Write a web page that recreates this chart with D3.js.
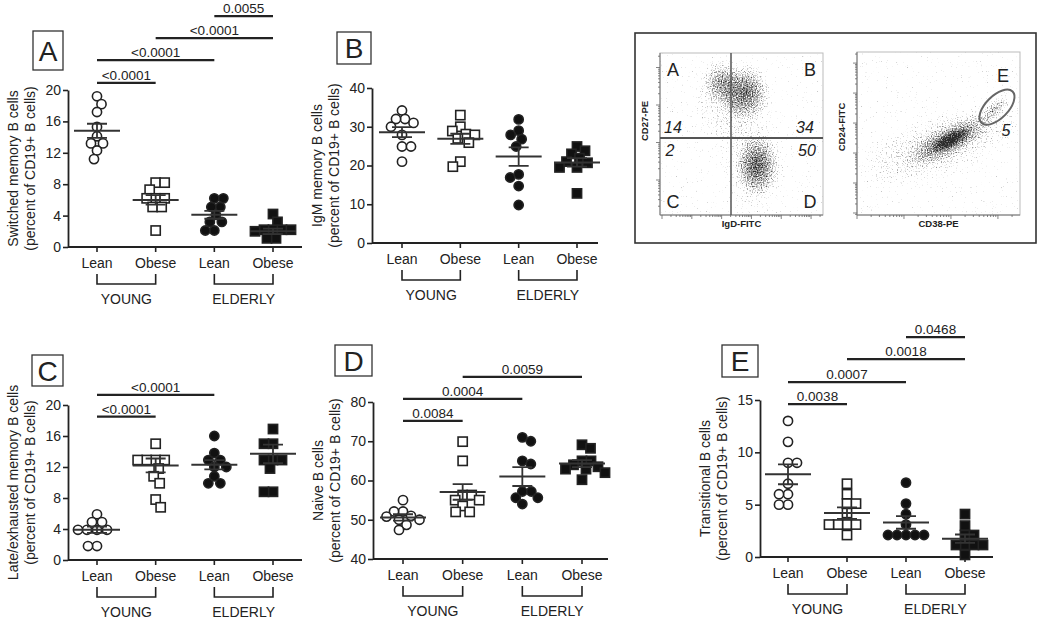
<!DOCTYPE html>
<html><head><meta charset="utf-8">
<script src="https://cdn.jsdelivr.net/npm/d3@7"></script>
<style>
body{margin:0;background:#fff}
svg{display:block}
text{font-family:"Liberation Sans",Arial,sans-serif;fill:#222}
</style>
</head><body>
<svg id="chart" width="1050" height="625"></svg>
<script>
// ---------------- DATA ----------------
const categories = ["Lean", "Obese", "Lean", "Obese"];
const ageGroups = ["YOUNG", "ELDERLY"];
const markerKinds = ["openCircle", "openSquare", "filledCircle", "filledSquare"];

// A: switched memory B cells
const switchedValues = [
  [19.2, 18.2, 17.2, 15.3, 14.1, 13.2, 13.2, 12.3, 11.2],
  [8.2, 8.2, 7.3, 6.2, 6.2, 6.2, 5.1, 5.1, 2.1],
  [6.2, 6.2, 5.1, 5.1, 4.1, 3.2, 3.2, 2.1, 2.1],
  [4.2, 3.2, 2.2, 2.2, 2.2, 2.2, 1.1, 1.1, 2.0]
];
const switchedMean = [14.8, 6.0, 4.1, 2.0];
const switchedSem = [0.9, 0.6, 0.5, 0.35];
const switchedSig = [
  {from: 0, to: 1, level: 20.9, label: "<0.0001"},
  {from: 0, to: 2, level: 23.8, label: "<0.0001"},
  {from: 1, to: 3, level: 26.6, label: "<0.0001"},
  {from: 2, to: 3, level: 29.4, label: "0.0055"}
];

// B: IgM memory B cells
const igmValues = [
  [34.2, 32, 32, 31, 30, 27.9, 24.9, 24.9, 21],
  [33, 30, 28.9, 28.1, 27.9, 27, 25.9, 19.7, 21],
  [31.9, 29, 27.9, 26.8, 24.9, 16.9, 17.7, 14.7, 9.8],
  [24.9, 23, 23.8, 21.9, 20.7, 19.5, 19.5, 21, 12.8]
];
const igmMean = [28.6, 26.9, 22.3, 20.8];
const igmSem = [1.3, 1.3, 2.4, 1.1];
const igmSig = [];

// C: late/exhausted memory B cells
const lateValues = [
  [5.9, 4.9, 4.9, 3.9, 3.9, 3.9, 3.9, 1.8, 1.8],
  [15, 12.9, 12.9, 12.9, 12.9, 11.8, 10.8, 9.9, 7.8, 6.8],
  [16, 13.8, 12.9, 12.9, 12, 12, 10.8, 9.9, 9.9],
  [16.9, 15, 15, 12.9, 12.9, 12.9, 11.8, 8.8, 8.8]
];
const lateMean = [3.9, 12.2, 12.3, 13.7];
const lateSem = [0.4, 0.9, 0.6, 1.2];
const lateSig = [
  {from: 0, to: 1, level: 18.5, label: "<0.0001"},
  {from: 0, to: 2, level: 21.3, label: "<0.0001"}
];

// D: naive B cells
const naiveValues = [
  [55, 52.1, 52.1, 51, 50.8, 50, 50, 48.7, 47.4],
  [69.9, 65, 56.3, 56.3, 55, 55, 53.5, 52, 52],
  [70, 71, 65, 64.2, 57.2, 57.2, 55.6, 55.6, 54],
  [68.2, 69.1, 65, 65, 64, 63.5, 62.9, 62.9, 62, 60.2]
];
const naiveMean = [50.6, 57.1, 61.0, 64.3];
const naiveSem = [0.8, 2.0, 2.4, 0.9];
const naiveSig = [
  {from: 0, to: 1, level: 75.2, label: "0.0084"},
  {from: 0, to: 2, level: 80.8, label: "0.0004"},
  {from: 1, to: 3, level: 86.4, label: "0.0059"}
];

// E: transitional B cells
const transValues = [
  [13, 11, 9, 9, 7, 6, 6, 5, 5],
  [7, 6, 5.1, 5.1, 4.2, 3.1, 3.1, 3.1, 3.1, 2.1],
  [7.1, 5.1, 4.1, 3.1, 2.1, 2.1, 2.1, 2.1, 2.1],
  [4.1, 3, 2.1, 2.1, 1.15, 1.15, 1.15, 1.15, 0.2]
];
const transMean = [7.9, 4.2, 3.3, 1.75];
const transSem = [0.95, 0.55, 0.6, 0.4];
const transSig = [
  {from: 0, to: 1, level: 14.6, label: "0.0038"},
  {from: 0, to: 2, level: 16.7, label: "0.0007"},
  {from: 1, to: 3, level: 18.9, label: "0.0018"},
  {from: 2, to: 3, level: 21.0, label: "0.0468"}
];

// Flow cytometry inset (log10 axis units)
const quadrantLetters = ["A", "B", "C", "D"];
const quadrantPercents = ["14", "34", "2", "50"];
const gateLetter = "E";
const gatePercent = "5";
const flowClusters = [
  {plot: "left", x: 1.95, y: 3.62, sx: 0.7, sy: 0.65, rot: 0, w: 0.33},
  {plot: "left", x: 2.8, y: 3.35, sx: 0.9, sy: 0.8, rot: 0, w: 0.42},
  {plot: "left", x: 2.4, y: 3.0, sx: 1.5, sy: 1.3, rot: 0, w: 0.2},
  {plot: "left", x: 3.2, y: 1.4, sx: 0.8, sy: 0.9, rot: 0, w: 0.45},
  {plot: "left", x: 3.1, y: 1.3, sx: 1.2, sy: 1.4, rot: 0, w: 0.17},
  {plot: "right", x: 1.8, y: 2.3, sx: 2.1, sy: 1.1, rot: -20, w: 0.24},
  {plot: "right", x: 1.98, y: 2.43, sx: 1.05, sy: 0.55, rot: -28, w: 0.38},
  {plot: "right", x: 2.0, y: 2.45, sx: 0.5, sy: 0.28, rot: -28, w: 0.5},
  {plot: "right", x: 2.95, y: 3.5, sx: 0.5, sy: 0.3, rot: -45, w: 0.27}
];
const flowGate = {x: 2.98, y: 3.53, sx: 0.47, sy: 0.24, rot: -45};

// ---------------- LAYOUT ----------------
const svg = d3.select("#chart");
const INK = "#222";

const panels = [
  {letter: "A", box: [33, 31, 30, 39], ax: 68, top: 90, bottom: 247, xEnd: 302, c0: 97, c3: 273,
   domain: [0, 20], ticks: [0, 4, 8, 12, 16, 20],
   title: ["Switched memory B cells", "(percent of CD19+ B cells)"],
   values: switchedValues, mean: switchedMean, sem: switchedSem, sig: switchedSig},
  {letter: "B", box: [337, 32, 34, 32], ax: 372, top: 88, bottom: 243, xEnd: 598, c0: 402, c3: 577,
   domain: [0, 40], ticks: [0, 10, 20, 30, 40],
   title: ["IgM memory B cells", "(percent of CD19+ B cells)"],
   values: igmValues, mean: igmMean, sem: igmSem, sig: igmSig},
  {letter: "C", box: [32, 355, 31, 31], ax: 68, top: 405, bottom: 560, xEnd: 302, c0: 97, c3: 273,
   domain: [0, 20], ticks: [0, 4, 8, 12, 16, 20],
   title: ["Late/exhausted memory B cells", "(percent of CD19+ B cells)"],
   values: lateValues, mean: lateMean, sem: lateSem, sig: lateSig},
  {letter: "D", box: [335, 345, 37, 31], ax: 373, top: 402, bottom: 559, xEnd: 608, c0: 403, c3: 582,
   domain: [40, 80], ticks: [40, 50, 60, 70, 80],
   title: ["Naive B cells", "(percent of CD19+ B cells)"],
   values: naiveValues, mean: naiveMean, sem: naiveSem, sig: naiveSig},
  {letter: "E", box: [722, 345, 36, 32], ax: 760, top: 400, bottom: 557, xEnd: 993, c0: 788, c3: 965,
   domain: [0, 15], ticks: [0, 5, 10, 15],
   title: ["Transitional B cells", "(percent of CD19+ B cells)"],
   values: transValues, mean: transMean, sem: transSem, sig: transSig}
];

const MARK = 10; // marker diameter

function swarm(vals, y, d) {
  const pts = vals.map(v => ({v, y: y(v)})).sort((a, b) => a.y - b.y);
  const placed = [];
  pts.forEach((p, k) => {
    let best = null;
    for (let off = 0; off < 80 && best === null; off += 0.5) {
      const sides = off === 0 ? [0] : (k % 2 ? [1, -1] : [-1, 1]);
      for (const s of sides) {
        const x = s * off;
        if (placed.every(q => (q.x - x) ** 2 + (q.y - p.y) ** 2 >= d * d)) { best = x; break; }
      }
    }
    p.x = best; placed.push(p);
  });
  return placed;
}

function drawPanel(cfg) {
  const g = svg.append("g");
  const y = d3.scaleLinear().domain(cfg.domain).range([cfg.bottom, cfg.top]);
  const x = d3.scalePoint().domain(d3.range(categories.length)).range([cfg.c0, cfg.c3]);

  // letter box
  g.append("rect").attr("x", cfg.box[0]).attr("y", cfg.box[1]).attr("width", cfg.box[2]).attr("height", cfg.box[3])
    .attr("fill", "#fff").attr("stroke", "#333").attr("stroke-width", 1.3);
  g.append("text").attr("x", cfg.box[0] + cfg.box[2] / 2).attr("y", cfg.box[1] + cfg.box[3] / 2 + 10)
    .attr("text-anchor", "middle").attr("font-size", 28).text(cfg.letter);

  // y axis
  const yAxis = d3.axisLeft(y).tickValues(cfg.ticks).tickSize(5).tickSizeOuter(0).tickPadding(2);
  const ya = g.append("g").attr("transform", `translate(${cfg.ax},0)`).call(yAxis);
  ya.select(".domain").attr("stroke", INK).attr("stroke-width", 1.8);
  ya.selectAll(".tick line").attr("stroke", INK).attr("stroke-width", 1.6);
  ya.selectAll(".tick text").attr("font-size", 14).attr("font-family", "Liberation Sans, Arial, sans-serif").attr("fill", INK);

  // x axis line
  g.append("line").attr("x1", cfg.ax).attr("x2", cfg.xEnd).attr("y1", cfg.bottom).attr("y2", cfg.bottom)
    .attr("stroke", INK).attr("stroke-width", 1.8);
  categories.forEach((c, i) => {
    g.append("line").attr("x1", x(i)).attr("x2", x(i)).attr("y1", cfg.bottom).attr("y2", cfg.bottom + 5)
      .attr("stroke", INK).attr("stroke-width", 1.6);
    g.append("text").attr("x", x(i)).attr("y", cfg.bottom + 21).attr("text-anchor", "middle")
      .attr("font-size", 14).text(c);
  });
  // group brackets
  ageGroups.forEach((ag, k) => {
    const a = x(2 * k), b = x(2 * k + 1);
    g.append("path").attr("d", `M${a},${cfg.bottom + 27}V${cfg.bottom + 37}H${b}V${cfg.bottom + 27}`)
      .attr("fill", "none").attr("stroke", INK).attr("stroke-width", 1.6);
    g.append("text").attr("x", (a + b) / 2).attr("y", cfg.bottom + 57).attr("text-anchor", "middle")
      .attr("font-size", 14).text(ag);
  });

  // y title
  const mid = (cfg.top + cfg.bottom) / 2;
  cfg.title.forEach((t, i) => {
    const tx = cfg.ax - 55 + i * 17;
    g.append("text").attr("transform", `translate(${tx + 5},${mid}) rotate(-90)`).attr("text-anchor", "middle")
      .attr("font-size", 14).text(t);
  });

  // points
  cfg.values.forEach((vals, i) => {
    const pts = swarm(vals, y, 9);
    const kind = markerKinds[i];
    const filled = kind.startsWith("filled");
    const fill = filled ? "#111" : "#fff";
    pts.forEach(p => {
      if (kind.endsWith("Circle")) {
        g.append("circle").attr("cx", x(i) + p.x).attr("cy", p.y).attr("r", MARK / 2 - 0.4)
          .attr("fill", fill).attr("stroke", "#222").attr("stroke-width", 1.6);
      } else {
        g.append("rect").attr("x", x(i) + p.x - MARK / 2 + 0.4).attr("y", p.y - MARK / 2 + 0.4)
          .attr("width", MARK - 0.8).attr("height", MARK - 0.8)
          .attr("fill", fill).attr("stroke", "#222").attr("stroke-width", 1.6);
      }
    });
  });

  // mean & SEM
  cfg.mean.forEach((m, i) => {
    const cx = x(i), s = cfg.sem[i];
    g.append("line").attr("x1", cx - 23).attr("x2", cx + 23).attr("y1", y(m)).attr("y2", y(m))
      .attr("stroke", "#333").attr("stroke-width", 2);
    g.append("path").attr("d", `M${cx - 10},${y(m + s)}H${cx + 10}M${cx},${y(m + s)}V${y(m - s)}M${cx - 10},${y(m - s)}H${cx + 10}`)
      .attr("fill", "none").attr("stroke", "#333").attr("stroke-width", 1.8);
  });

  // significance bars
  cfg.sig.forEach(s => {
    const yy = y(s.level);
    g.append("line").attr("x1", x(s.from)).attr("x2", x(s.to)).attr("y1", yy).attr("y2", yy)
      .attr("stroke", "#222").attr("stroke-width", 2.2);
    g.append("text").attr("x", (x(s.from) + x(s.to)) / 2).attr("y", yy - 3).attr("text-anchor", "middle")
      .attr("font-size", 13.5).text(s.label);
  });
}

panels.forEach(drawPanel);

// ---------------- FLOW CYTOMETRY INSET ----------------
const defs = svg.append("defs");
const grad = defs.append("radialGradient").attr("id", "blob");
grad.append("stop").attr("offset", "0%").attr("stop-color", "#000").attr("stop-opacity", 1);
grad.append("stop").attr("offset", "45%").attr("stop-color", "#000").attr("stop-opacity", 0.6);
grad.append("stop").attr("offset", "100%").attr("stop-color", "#000").attr("stop-opacity", 0);

function speckleFilter(id, x0, y0, w, h) {
  const f = defs.append("filter").attr("id", id).attr("filterUnits", "userSpaceOnUse")
    .attr("x", x0).attr("y", y0).attr("width", w).attr("height", h);
  f.append("feTurbulence").attr("type", "fractalNoise").attr("baseFrequency", 0.8).attr("numOctaves", 1)
    .attr("seed", 4).attr("result", "noise");
  f.append("feComposite").attr("in", "SourceAlpha").attr("in2", "noise").attr("operator", "arithmetic")
    .attr("k1", 0).attr("k2", 1).attr("k3", 1).attr("k4", -0.69).attr("result", "sum");
  const ct = f.append("feComponentTransfer").attr("in", "sum").attr("result", "dots");
  ct.append("feFuncA").attr("type", "linear").attr("slope", 2.2).attr("intercept", 0);
  f.append("feFlood").attr("flood-color", "#2a2a2a").attr("result", "ink");
  f.append("feComposite").attr("in", "ink").attr("in2", "dots").attr("operator", "in");
}

const flow = svg.append("g");
flow.append("rect").attr("x", 635).attr("y", 33).attr("width", 401).attr("height", 210)
  .attr("fill", "#fff").attr("stroke", "#333").attr("stroke-width", 1.6);

const plotsFlow = {
  left: {x0: 660, x1: 823, y0: 53, y1: 215,
    xs: d3.scaleLog().domain([1, Math.pow(10, 5.4)]).range([662, 823]),
    ys: d3.scaleLog().domain([Math.pow(10, 0.067), Math.pow(10, 4.387)]).range([215, 53]),
    xt: "IgD-FITC", yt: "CD27-PE"},
  right: {x0: 857, x1: 1020, y0: 52, y1: 215,
    xs: d3.scaleLog().domain([1, Math.pow(10, 3.47)]).range([857, 1020]),
    ys: d3.scaleLog().domain([Math.pow(10, -0.067), Math.pow(10, 5.37)]).range([215, 52]),
    xt: "CD38-PE", yt: "CD24-FITC"}
};

Object.entries(plotsFlow).forEach(([key, p]) => {
  const id = "speck-" + key;
  speckleFilter(id, p.x0, p.y0, p.x1 - p.x0, p.y1 - p.y0);
  const cg = flow.append("g").attr("filter", `url(#${id})`);
  cg.append("rect").attr("x", p.x0).attr("y", p.y0).attr("width", p.x1 - p.x0).attr("height", p.y1 - p.y0)
    .attr("fill", "#000").attr("fill-opacity", 0.001);
  flowClusters.filter(c => c.plot === key).forEach(c => {
    const cx = p.xs(Math.pow(10, c.x)), cy = p.ys(Math.pow(10, c.y));
    const rx = Math.abs(p.xs(Math.pow(10, c.x + c.sx)) - cx);
    const ry = Math.abs(p.ys(Math.pow(10, c.y + c.sy)) - cy);
    cg.append("ellipse").attr("cx", cx).attr("cy", cy).attr("rx", rx).attr("ry", ry)
      .attr("transform", `rotate(${c.rot},${cx},${cy})`)
      .attr("fill", "url(#blob)").attr("fill-opacity", c.w);
  });
  // frame
  flow.append("rect").attr("x", p.x0).attr("y", p.y0).attr("width", p.x1 - p.x0).attr("height", p.y1 - p.y0)
    .attr("fill", "none").attr("stroke", "#bbb").attr("stroke-width", 1);
  flow.append("path").attr("d", `M${p.x0},${p.y0}V${p.y1}H${p.x1}`).attr("fill", "none")
    .attr("stroke", "#777").attr("stroke-width", 1);
  // ticks
  p.xs.ticks().forEach(t => {
    const major = Math.abs(Math.log10(t) - Math.round(Math.log10(t))) < 1e-6;
    flow.append("line").attr("x1", p.xs(t)).attr("x2", p.xs(t)).attr("y1", p.y1).attr("y2", p.y1 + (major ? 4 : 2))
      .attr("stroke", "#666").attr("stroke-width", 0.8);
  });
  p.ys.ticks().forEach(t => {
    const major = Math.abs(Math.log10(t) - Math.round(Math.log10(t))) < 1e-6;
    flow.append("line").attr("x1", p.x0).attr("x2", p.x0 - (major ? 4 : 2)).attr("y1", p.ys(t)).attr("y2", p.ys(t))
      .attr("stroke", "#666").attr("stroke-width", 0.8);
  });
  flow.append("text").attr("x", (p.x0 + p.x1) / 2).attr("y", p.y1 + 12).attr("text-anchor", "middle")
    .attr("font-size", 9.5).attr("font-weight", "bold").attr("fill", "#444").text(p.xt);
  flow.append("text").attr("transform", `translate(${p.x0 - 12},${key === "left" ? 121 : 127}) rotate(-90)`)
    .attr("text-anchor", "middle").attr("font-size", 9.5).attr("font-weight", "bold").attr("fill", "#444").text(p.yt);
});

// quadrant lines
const L = plotsFlow.left;
flow.append("line").attr("x1", 731).attr("x2", 731).attr("y1", L.y0).attr("y2", L.y1).attr("stroke", "#555").attr("stroke-width", 1.5);
flow.append("line").attr("x1", L.x0).attr("x2", L.x1).attr("y1", 138).attr("y2", 138).attr("stroke", "#555").attr("stroke-width", 2);
// quadrant letters & percents
const qPos = [[673, 76], [810, 76], [673, 208], [810, 208]];
quadrantLetters.forEach((q, i) => {
  flow.append("text").attr("x", qPos[i][0]).attr("y", qPos[i][1]).attr("text-anchor", "middle")
    .attr("font-size", 18).text(q);
});
const pPos = [[673, 133], [805, 133], [670, 156], [807, 156]];
quadrantPercents.forEach((q, i) => {
  flow.append("text").attr("x", pPos[i][0]).attr("y", pPos[i][1]).attr("text-anchor", "middle")
    .attr("font-size", 16).attr("font-style", "italic").text(q);
});

// gate ellipse
const R = plotsFlow.right;
{
  const cx = R.xs(Math.pow(10, flowGate.x)), cy = R.ys(Math.pow(10, flowGate.y));
  const rx = Math.abs(R.xs(Math.pow(10, flowGate.x + flowGate.sx)) - cx);
  const ry = Math.abs(R.xs(Math.pow(10, flowGate.x + flowGate.sy)) - cx);
  flow.append("ellipse").attr("cx", cx).attr("cy", cy).attr("rx", rx).attr("ry", ry)
    .attr("transform", `rotate(${flowGate.rot},${cx},${cy})`)
    .attr("fill", "none").attr("stroke", "#666").attr("stroke-width", 2);
}
flow.append("text").attr("x", 1003).attr("y", 82).attr("text-anchor", "middle").attr("font-size", 18).text(gateLetter);
flow.append("text").attr("x", 1006).attr("y", 136).attr("text-anchor", "middle").attr("font-size", 16)
  .attr("font-style", "italic").text(gatePercent);
</script>
</body></html>
